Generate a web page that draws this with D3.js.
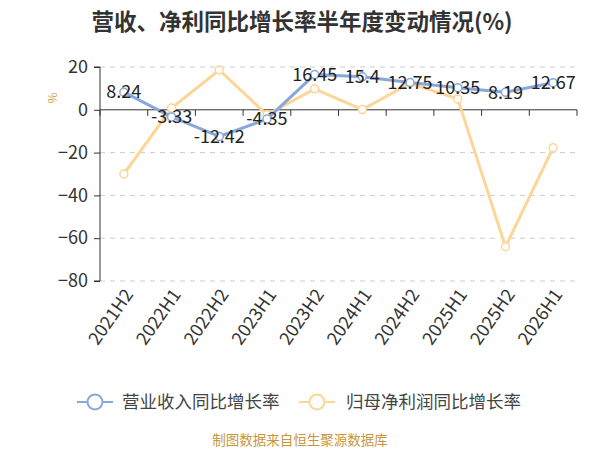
<!DOCTYPE html>
<html><head><meta charset="utf-8">
<script src="https://cdn.jsdelivr.net/npm/d3@7"></script>
<style>body{margin:0;background:#fff}svg{display:block;font-family:"Noto Sans CJK SC","Noto Sans",sans-serif}</style>
</head><body><svg id="c" width="600" height="450"></svg>
<script>
const categories = ["2021H2","2022H1","2022H2","2023H1","2023H2","2024H1","2024H2","2025H1","2025H2","2026H1"];
const revenueGrowth = [8.24,-3.33,-12.42,-4.35,16.45,15.4,12.75,10.35,8.19,12.67];
const profitGrowth = [-30,0.8,18.6,-2.3,9.8,0.1,12.4,5.1,-64,-17.7];
const yTicks = [20,0,-20,-40,-60,-80];
const seriesNames = ["营业收入同比增长率","归母净利润同比增长率"];
const colors = ["#88a8dc","#fdd596"];

const svg = d3.select("#c");
const L=100,R=577,T=67,B=281;
const x = d3.scaleBand().domain(categories).range([L,R]);
const y = d3.scaleLinear().domain([-80,20]).range([B,T]);

svg.append("text").attr("x",302).attr("y",30).attr("text-anchor","middle")
  .attr("font-size",22.5).attr("font-weight","bold").attr("fill","#333")
  .text("营收、净利同比增长率半年度变动情况(%)");

// grid
svg.append("g").selectAll("line").data(yTicks.filter(d=>d!==0)).join("line")
  .attr("x1",L).attr("x2",R).attr("y1",d=>y(d)).attr("y2",d=>y(d))
  .attr("stroke","#ccc").attr("stroke-dasharray","5,5");

// y axis
const ya = svg.append("g").attr("transform",`translate(${L},0)`)
  .call(d3.axisLeft(y).tickValues(yTicks).tickSize(6).tickPadding(6).tickFormat(d3.format("d")));
ya.select(".domain").attr("stroke","#333").attr("d",`M-6,${T}H0V${B}H-6`);
ya.selectAll(".tick line").attr("stroke","#333");
ya.selectAll(".tick text").attr("font-size",18).attr("fill","#333").attr("font-family","Noto Sans CJK SC");

// x axis at zero
const xa = svg.append("g").attr("transform",`translate(0,${y(0)})`)
  .call(d3.axisBottom(x).tickSize(0).tickFormat(""));
xa.select(".domain").attr("stroke","#333").attr("d",`M${L},0H${R}`);
svg.append("g").selectAll("line").data(categories.concat([null])).join("line")
  .attr("x1",(d,i)=>L+i*x.step()).attr("x2",(d,i)=>L+i*x.step())
  .attr("y1",y(0)).attr("y2",y(0)+6).attr("stroke","#333");

// x labels
svg.append("g").selectAll("text").data(categories).join("text")
  .attr("transform",d=>`translate(${x(d)+x.bandwidth()/2+5},${B+10}) rotate(-55)`)
  .attr("text-anchor","end").attr("dy","0.35em").attr("font-size",18).attr("fill","#333")
  .text(d=>d);

// y-axis name
svg.append("text").attr("transform","translate(57,98) rotate(-90)").attr("text-anchor","middle")
  .attr("font-size",12).attr("fill","#d4a04a").text("%");

const cx = d=>x(d)+x.bandwidth()/2;
const line = d3.line().x((d,i)=>cx(categories[i])).y(d=>y(d));
[profitGrowth, revenueGrowth].forEach((vals,k)=>{
  const c = k===0?colors[1]:colors[0];
  svg.append("path").datum(vals).attr("d",line).attr("fill","none").attr("stroke",c).attr("stroke-width",3);
  svg.append("g").selectAll("circle").data(vals).join("circle")
    .attr("cx",(d,i)=>cx(categories[i])).attr("cy",d=>y(d)).attr("r",4)
    .attr("fill","#fff").attr("stroke",c).attr("stroke-width",1.5);
});
svg.append("g").selectAll("text").data(revenueGrowth).join("text")
  .attr("x",(d,i)=>cx(categories[i])).attr("y",d=>y(d)).attr("dy","0.35em")
  .attr("text-anchor","middle").attr("font-size",18).attr("fill","#222").text(d=>d);

// legend
const leg = [{x:77,tx:122},{x:299,tx:346}];
seriesNames.forEach((n,i)=>{
  const g = svg.append("g");
  g.append("line").attr("x1",leg[i].x).attr("x2",leg[i].x+36).attr("y1",402).attr("y2",402).attr("stroke",colors[i]).attr("stroke-width",2);
  g.append("circle").attr("cx",leg[i].x+18).attr("cy",402).attr("r",7.5).attr("fill","#fff").attr("stroke",colors[i]).attr("stroke-width",2);
  g.append("text").attr("x",leg[i].tx).attr("y",402).attr("dy","0.35em").attr("font-size",17.5).attr("fill","#444").text(n);
});

svg.append("text").attr("x",300).attr("y",445).attr("text-anchor","middle")
  .attr("font-size",13.5).attr("fill","#c9973a").text("制图数据来自恒生聚源数据库");
</script></body></html>
